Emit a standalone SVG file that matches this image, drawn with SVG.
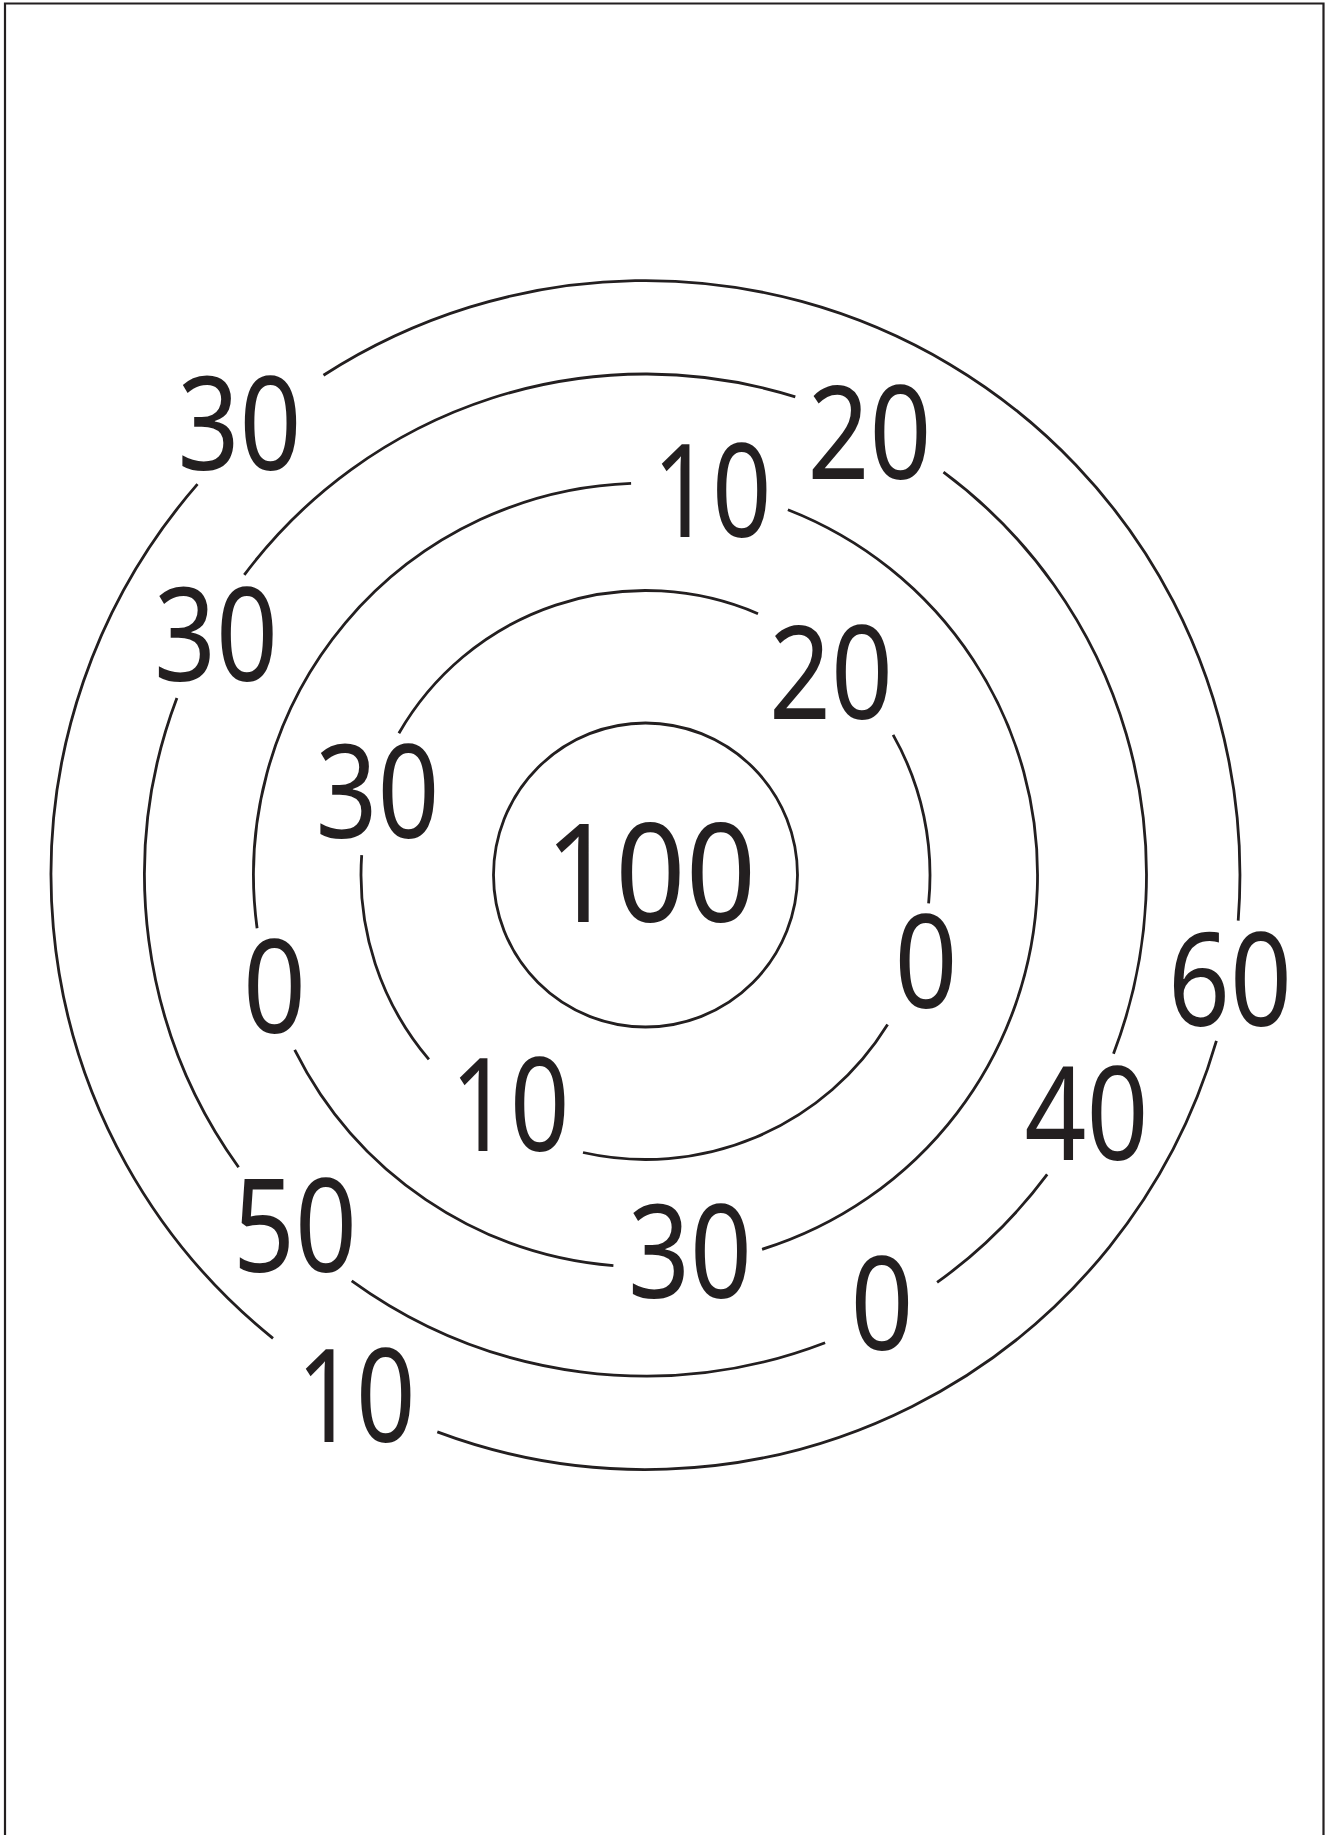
<svg xmlns="http://www.w3.org/2000/svg" width="1327" height="1835" viewBox="0 0 1327 1835">
<style>
.ring{fill:none;stroke:#231f20;stroke-width:2.8;stroke-linecap:butt}
.lbl{font-family:"Noto Sans","Open Sans",sans-serif;font-size:129px;fill:#231f20;text-anchor:middle}
.big{font-size:137px}
</style>
<rect width="1327" height="1835" fill="#ffffff"/>
<path d="M5,1836 V3.5 H1323.5 V1836" fill="none" stroke="#231f20" stroke-width="2.2"/>
<g id="ring5">
<path class="ring" d="M1216.4,1040.9 A594.5,594.5 0 0 1 437.3,1431.9"/>
<path class="ring" d="M323.5,375.3 A594.5,594.5 0 0 1 1238.2,920.6"/>
<path class="ring" d="M273.0,1338.3 A594.5,594.5 0 0 1 197.5,484.2"/>
<text class="lbl" x="239.5" y="470" textLength="124" lengthAdjust="spacingAndGlyphs">30</text>
<text class="lbl" x="1230" y="1026" textLength="124" lengthAdjust="spacingAndGlyphs">60</text>
<text class="lbl" x="356" y="1442" textLength="119" lengthAdjust="spacingAndGlyphs">10</text>
</g>
<g id="ring4">
<path class="ring" d="M244.3,574.9 A501,501 0 0 1 795.3,396.9"/>
<path class="ring" d="M943.5,472.2 A501,501 0 0 1 1113.5,1053.7"/>
<path class="ring" d="M1047.2,1174.4 A501,501 0 0 1 937.1,1282.4"/>
<path class="ring" d="M825.1,1342.7 A501,501 0 0 1 351.7,1280.8"/>
<path class="ring" d="M238.6,1167.3 A501,501 0 0 1 176.9,697.9"/>
<text class="lbl" x="869.5" y="479" textLength="124" lengthAdjust="spacingAndGlyphs">20</text>
<text class="lbl" x="216" y="681" textLength="124" lengthAdjust="spacingAndGlyphs">30</text>
<text class="lbl" x="1086.5" y="1160" textLength="124" lengthAdjust="spacingAndGlyphs">40</text>
<text class="lbl" x="882" y="1350" textLength="63" lengthAdjust="spacingAndGlyphs">0</text>
<text class="lbl" x="295" y="1272" textLength="124" lengthAdjust="spacingAndGlyphs">50</text>
</g>
<g id="ring3">
<path class="ring" d="M257.1,928.2 A392,392 0 0 1 631.1,483.3"/>
<path class="ring" d="M787.9,509.8 A392,392 0 0 1 762.1,1249.3"/>
<path class="ring" d="M613.4,1265.7 A392,392 0 0 1 294.7,1049.9"/>
<text class="lbl" x="712" y="537" textLength="119" lengthAdjust="spacingAndGlyphs">10</text>
<text class="lbl" x="274.5" y="1033" textLength="63" lengthAdjust="spacingAndGlyphs">0</text>
<text class="lbl" x="690" y="1298" textLength="124" lengthAdjust="spacingAndGlyphs">30</text>
</g>
<g id="ring2">
<path class="ring" d="M398.9,733.2 A284.5,284.5 0 0 1 758.0,613.7"/>
<path class="ring" d="M893.1,734.9 A284.5,284.5 0 0 1 928.6,903.3"/>
<path class="ring" d="M887.6,1024.5 A284.5,284.5 0 0 1 583.0,1152.5"/>
<path class="ring" d="M428.9,1059.4 A284.5,284.5 0 0 1 361.7,855.1"/>
<text class="lbl" x="831" y="719" textLength="124" lengthAdjust="spacingAndGlyphs">20</text>
<text class="lbl" x="377.5" y="838" textLength="124" lengthAdjust="spacingAndGlyphs">30</text>
<text class="lbl" x="926" y="1008" textLength="63" lengthAdjust="spacingAndGlyphs">0</text>
<text class="lbl" x="510" y="1151" textLength="119" lengthAdjust="spacingAndGlyphs">10</text>
</g>
<g id="ring1">
<circle class="ring" cx="645.5" cy="875" r="152"/>
<text class="lbl big" x="650.5" y="922" textLength="211" lengthAdjust="spacingAndGlyphs">100</text>
</g>
</svg>
